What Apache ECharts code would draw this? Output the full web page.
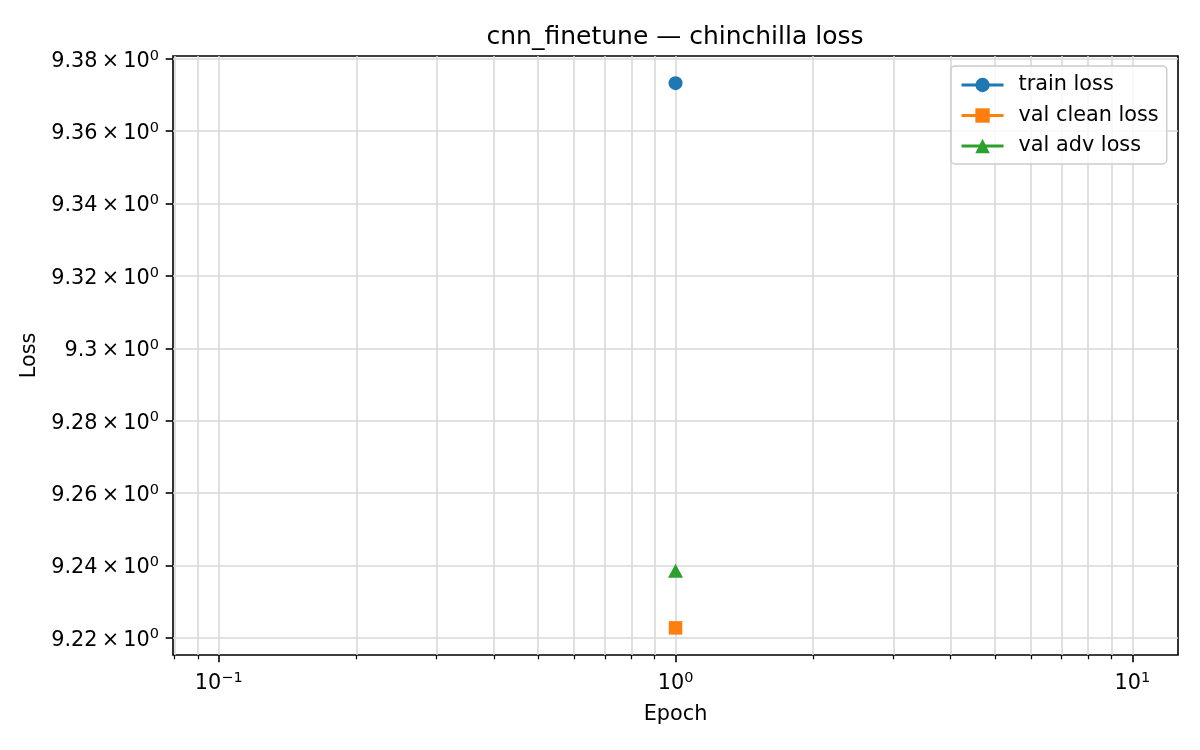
<!DOCTYPE html>
<html>
<head>
<meta charset="utf-8">
<script src="https://cdn.jsdelivr.net/npm/echarts@6.0.0/dist/echarts.min.js"></script>
<style>
html,body{margin:0;padding:0;background:#fff;}
#chart{width:1200px;height:750px;}
</style>
</head>
<body>
<div id="chart"></div>
<script>
// ---- data ----
const epochs = [1];
const trainLoss = [9.3733];
const valCleanLoss = [9.2227];
const valAdvLoss = [9.2385];
const seriesNames = ['train loss', 'val clean loss', 'val adv loss'];
const yTicks = [9.22, 9.24, 9.26, 9.28, 9.30, 9.32, 9.34, 9.36, 9.38];
const xMajorTicks = [0.1, 1, 10];
const xMinorTicks = [0.08, 0.09, 0.2, 0.3, 0.4, 0.5, 0.6, 0.7, 0.8, 0.9, 2, 3, 4, 5, 6, 7, 8, 9];
const xLimits = [0.0794, 12.59];
const yLimits = [9.2152, 9.3808];
const titleText = 'cnn_finetune — chinchilla loss';

const FONT = 'DejaVu Sans';
const colors = ['#1f77b4', '#ff7f0e', '#2ca02c'];
const gridColor = '#d9d9d9';

function pairs(xs, ys) { return xs.map((x, i) => [x, ys[i]]); }

const supRich = {
  b: { fontFamily: FONT, fontSize: 20.8, color: '#000', lineHeight: 26 },
  s: { fontFamily: FONT, fontSize: 14.5, color: '#000', lineHeight: 14, verticalAlign: 'top' }
};

const chart = echarts.init(document.getElementById('chart'), null, { renderer: 'canvas' });

const option = {
  animation: false,
  backgroundColor: '#fff',
  title: {
    text: titleText,
    left: 675,
    top: 25,
    padding: 0,
    textAlign: 'center',
    textStyle: { fontFamily: FONT, fontSize: 25, fontWeight: 'normal', color: '#000' }
  },
  grid: {
    left: 173, right: 22, top: 56, bottom: 95,
    show: true, borderColor: '#000', borderWidth: 1.6, backgroundColor: 'transparent'
  },
  legend: {
    data: seriesNames,
    orient: 'vertical',
    left: 951, top: 66,
    padding: [8.5, 8, 7.5, 9],
    itemWidth: 42, itemHeight: 18, itemGap: 9.5,
    backgroundColor: 'rgba(255,255,255,0.8)',
    borderColor: '#cccccc', borderWidth: 1.5, borderRadius: 4,
    lineStyle: { width: 3.1 },
    textStyle: { fontFamily: FONT, fontSize: 20.8, color: '#000', padding: [0, 0, 0, 10] }
  },
  xAxis: [
    {
      type: 'log', logBase: 10, gridIndex: 0, position: 'bottom',
      min: xLimits[0], max: xLimits[1],
      name: 'Epoch', nameLocation: 'middle', nameGap: 49,
      nameTextStyle: { fontFamily: FONT, fontSize: 20.8, color: '#000' },
      axisLine: { show: false },
      axisTick: { show: true, inside: false, length: 7.3, lineStyle: { color: '#000', width: 1.6 }, customValues: xMajorTicks },
      axisLabel: {
        customValues: xMajorTicks, margin: 16,
        formatter: function (v) {
          const e = Math.round(Math.log10(v));
          return '{b|10}{s|' + (e < 0 ? '\u2212' + (-e) : e) + '}';
        },
        rich: supRich
      },
      splitLine: { show: true, lineStyle: { color: gridColor, width: 1.6 } },
      minorTick: { show: false }, minorSplitLine: { show: false }
    },
    {
      type: 'log', logBase: 10, gridIndex: 0, position: 'bottom',
      min: xLimits[0], max: xLimits[1],
      axisLine: { show: false },
      axisTick: { show: true, inside: false, length: 4.2, lineStyle: { color: '#000', width: 1.25 }, customValues: xMinorTicks },
      axisLabel: { show: false },
      splitLine: { show: true, lineStyle: { color: gridColor, width: 1.6 } },
      minorTick: { show: false }, minorSplitLine: { show: false }
    }
  ],
  yAxis: {
    type: 'value', gridIndex: 0,
    min: yLimits[0], max: yLimits[1],
    name: 'Loss', nameLocation: 'middle', nameGap: 110, nameRotate: 90,
    nameTextStyle: { fontFamily: FONT, fontSize: 20.8, color: '#000' },
    axisLine: { show: false },
    axisTick: { show: true, inside: false, length: 7.3, lineStyle: { color: '#000', width: 1.6 }, customValues: yTicks },
    axisLabel: {
      customValues: yTicks, margin: 14, padding: [5, 0, 0, 0],
      formatter: function (v) {
        return '{b|' + String(+v.toFixed(2)) + '\u2009\u00d7\u200910}{s|0}';
      },
      rich: supRich
    },
    splitLine: { show: true, lineStyle: { color: gridColor, width: 1.6 } }
  },
  series: [
    {
      name: seriesNames[0], type: 'line', xAxisIndex: 0, yAxisIndex: 0,
      data: pairs(epochs, trainLoss),
      symbol: 'circle', symbolSize: 14, showSymbol: true,
      itemStyle: { color: colors[0] }, lineStyle: { color: colors[0], width: 3.1 }
    },
    {
      name: seriesNames[1], type: 'line', xAxisIndex: 0, yAxisIndex: 0,
      data: pairs(epochs, valCleanLoss),
      symbol: 'rect', symbolSize: 13.5, showSymbol: true,
      itemStyle: { color: colors[1] }, lineStyle: { color: colors[1], width: 3.1 }
    },
    {
      name: seriesNames[2], type: 'line', xAxisIndex: 0, yAxisIndex: 0,
      data: pairs(epochs, valAdvLoss),
      symbol: 'triangle', symbolSize: [15, 14], showSymbol: true,
      itemStyle: { color: colors[2] }, lineStyle: { color: colors[2], width: 3.1 }
    }
  ]
};

chart.setOption(option);
</script>
</body>
</html>
